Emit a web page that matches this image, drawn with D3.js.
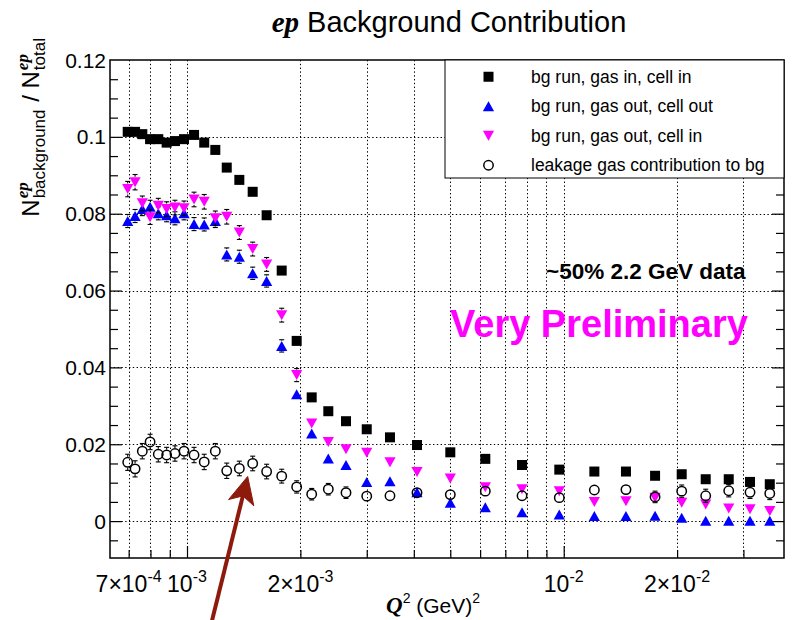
<!DOCTYPE html>
<html>
<head>
<meta charset="utf-8">
<script src="https://cdn.jsdelivr.net/npm/d3@7"></script>
<style>
  body { margin: 0; background: #fff; }
  text { font-family: "Liberation Sans", Arial, Helvetica, sans-serif; }
</style>
</head>
<body>
<svg id="chart" width="799" height="620"></svg>
<script>
// Q^2 bin centres (GeV^2)
var q2 = [6.96e-4, 7.28e-4, 7.61e-4, 7.98e-4, 8.39e-4, 8.83e-4, 9.29e-4, 9.82e-4,
          1.044e-3, 1.111e-3, 1.189e-3, 1.275e-3, 1.377e-3, 1.494e-3, 1.627e-3, 1.784e-3,
          1.955e-3, 2.143e-3, 2.372e-3, 2.643e-3, 3.0e-3, 3.458e-3, 4.079e-3, 5.0e-3,
          6.193e-3, 7.751e-3, 9.734e-3, 1.206e-2, 1.463e-2, 1.748e-2, 2.057e-2, 2.382e-2,
          2.742e-2, 3.123e-2, 3.524e-2];

// bg run, gas in, cell in
var gasInCellIn = [0.1013, 0.1013, 0.1007, 0.0994, 0.0994, 0.0985, 0.0989, 0.0994,
                   0.1005, 0.0985, 0.0966, 0.0920, 0.0888, 0.0857, 0.0796, 0.0652,
                   0.0469, 0.0322, 0.0286, 0.0260, 0.0239, 0.0218, 0.0198, 0.0179,
                   0.0162, 0.0146, 0.0134, 0.0129, 0.0129, 0.0118, 0.0122, 0.0109,
                   0.0109, 0.0102, 0.0096];
var gasInCellInErr = q2.map(function() { return 0.0006; });

// bg run, gas out, cell out
var gasOutCellOut = [0.0781, 0.0794, 0.0812, 0.0818, 0.0801, 0.0796, 0.0788, 0.0801,
                     0.0773, 0.0772, 0.0781, 0.0694, 0.0688, 0.0645, 0.0625, 0.0456,
                     0.0330, 0.0228, 0.0163, 0.0146, 0.0102, 0.0104, 0.0075, 0.0048,
                     0.0036, 0.0023, 0.0017, 0.0013, 0.0013, 0.0014, 0.0009, 0.0001,
                     0.0001, 0.0001, 0.0001];
var gasOutCellOutErr = [0.0017, 0.0017, 0.0017, 0.0017, 0.0017, 0.0017, 0.0017, 0.0017,
                        0.0017, 0.0017, 0.0017, 0.0017, 0.0017, 0.0016, 0.0016, 0.0016,
                        0.0014, 0.0013, 0.0010, 0.0010, 0.0010, 0.0009, 0.0009, 0.0009,
                        0.0009, 0.0009, 0.0009, 0.0009, 0.0009, 0.0009, 0.0009, 0.0009,
                        0.0009, 0.0009, 0.0009];

// bg run, gas out, cell in
var gasOutCellIn = [0.0864, 0.0882, 0.0827, 0.0791, 0.0821, 0.0812, 0.0816, 0.0814,
                    0.0837, 0.0831, 0.0788, 0.0792, 0.0751, 0.0708, 0.0668, 0.0536,
                    0.0380, 0.0254, 0.0206, 0.0187, 0.0178, 0.0153, 0.0128, 0.0111,
                    0.0088, 0.0083, 0.0078, 0.0050, 0.0052, 0.0061, 0.0048, 0.0043,
                    0.0033, 0.0031, 0.0026];
var gasOutCellInErr = [0.0020, 0.0020, 0.0019, 0.0019, 0.0019, 0.0019, 0.0019, 0.0019,
                       0.0019, 0.0019, 0.0019, 0.0019, 0.0018, 0.0018, 0.0018, 0.0018,
                       0.0017, 0.0012, 0.0013, 0.0012, 0.0014, 0.0010, 0.0010, 0.0010,
                       0.0010, 0.0010, 0.0012, 0.0012, 0.0014, 0.0012, 0.0013, 0.0013,
                       0.0013, 0.0012, 0.0012];

// leakage gas contribution to bg
var leakage = [0.0153, 0.0136, 0.0182, 0.0206, 0.0174, 0.0172, 0.0176, 0.0182,
               0.0172, 0.0154, 0.0182, 0.0131, 0.0137, 0.0150, 0.0129, 0.0117,
               0.0089, 0.0070, 0.0083, 0.0074, 0.0065, 0.0066, 0.0074, 0.0069,
               0.0078, 0.0066, 0.0061, 0.0081, 0.0082, 0.0063, 0.0078, 0.0066,
               0.0079, 0.0075, 0.0072];
var leakageErr = [0.0021, 0.0021, 0.0020, 0.0020, 0.0020, 0.0020, 0.0020, 0.0020,
                  0.0020, 0.0020, 0.0020, 0.0020, 0.0019, 0.0019, 0.0019, 0.0018,
                  0.0016, 0.0015, 0.0015, 0.0015, 0.0013, 0.0013, 0.0013, 0.0013,
                  0.0014, 0.0014, 0.0014, 0.0013, 0.0014, 0.0015, 0.0016, 0.0017,
                  0.0016, 0.0016, 0.0016];

var legendLabels = ["bg run, gas in, cell in", "bg run, gas out, cell out",
                    "bg run, gas out, cell in", "leakage gas contribution to bg"];

var yTickLabels = [[0, "0"], [0.02, "0.02"], [0.04, "0.04"], [0.06, "0.06"],
                   [0.08, "0.08"], [0.1, "0.1"], [0.12, "0.12"]];
// [value, mantissa, exponent]
var xTickLabels = [[7e-4, "7\u00d710", "-4"], [1e-3, "10", "-3"], [2e-3, "2\u00d710", "-3"],
                   [1e-2, "10", "-2"], [2e-2, "2\u00d710", "-2"]];

var serif = '"Liberation Serif", "Times New Roman", serif';

var frame = {left: 110, right: 784, top: 60, bottom: 558};

var svg = d3.select("#chart");

var x = d3.scaleLog()
    .domain([6.246e-4, 3.844e-2])
    .range([frame.left, frame.right]);

var y = d3.scaleLinear()
    .domain([-0.0096, 0.12])
    .range([frame.bottom, frame.top]);

// title
var title = svg.append("text")
    .attr("x", 449).attr("y", 32)
    .attr("text-anchor", "middle")
    .style("font-size", "29px");
title.append("tspan")
    .style("font-family", serif).style("font-weight", "bold").style("font-style", "italic")
    .text("ep");
title.append("tspan").text(" Background Contribution");

// grid
var xGrid = x.ticks();
var yGrid = [0, 0.02, 0.04, 0.06, 0.08, 0.1];

var grid = svg.append("g").attr("class", "grid")
    .attr("stroke", "#000").attr("stroke-width", 1).attr("stroke-dasharray", "1.4,2.4");
grid.selectAll("line.v").data(xGrid).enter().append("line")
    .attr("class", "v")
    .attr("x1", function(d) { return Math.round(x(d)) + 0.5; })
    .attr("x2", function(d) { return Math.round(x(d)) + 0.5; })
    .attr("y1", frame.top).attr("y2", frame.bottom);
grid.selectAll("line.h").data(yGrid).enter().append("line")
    .attr("class", "h")
    .attr("y1", function(d) { return Math.round(y(d)) + 0.5; })
    .attr("y2", function(d) { return Math.round(y(d)) + 0.5; })
    .attr("x1", frame.left).attr("x2", frame.right);

// ticks (inward, ROOT style)
var yMajor = [0, 0.02, 0.04, 0.06, 0.08, 0.1];
var yMinor = d3.range(-0.005, 0.1201, 0.005).filter(function(v) {
    return Math.abs(Math.round(v / 0.02) * 0.02 - v) > 1e-6;
});
var xDecades = xGrid.filter(function(v) {
    var l = Math.log10(v); return Math.abs(l - Math.round(l)) < 1e-6;
});
var xOthers = xGrid.filter(function(v) { return xDecades.indexOf(v) < 0; });

function tickAxis(axisFn, scale, vals, size, transform) {
    var g = svg.append("g").attr("transform", transform)
        .call(axisFn(scale).tickValues(vals).tickSize(size).tickSizeOuter(0).tickFormat(""));
    g.select(".domain").remove();
    g.selectAll("line").attr("stroke", "#000").attr("stroke-width", 1.2);
    return g;
}
tickAxis(d3.axisLeft, y, yMajor, -12, "translate(" + frame.left + ",0)");
tickAxis(d3.axisLeft, y, yMinor, -8, "translate(" + frame.left + ",0)");
tickAxis(d3.axisRight, y, yMajor, -12, "translate(" + frame.right + ",0)");
tickAxis(d3.axisRight, y, yMinor, -8, "translate(" + frame.right + ",0)");
tickAxis(d3.axisBottom, x, xDecades, -12, "translate(0," + frame.bottom + ")");
tickAxis(d3.axisBottom, x, xOthers, -8, "translate(0," + frame.bottom + ")");

// frame
svg.append("rect")
    .attr("x", frame.left).attr("y", frame.top)
    .attr("width", frame.right - frame.left).attr("height", frame.bottom - frame.top)
    .attr("fill", "none").attr("stroke", "#000").attr("stroke-width", 1.5);

// y tick labels
svg.append("g").selectAll("text").data(yTickLabels).enter().append("text")
    .attr("x", frame.left - 4)
    .attr("y", function(d) { return y(d[0]) + 7.5; })
    .attr("text-anchor", "end")
    .style("font-size", "21px")
    .text(function(d) { return d[1]; });

// x tick labels
var xl = svg.append("g").selectAll("text").data(xTickLabels).enter().append("text")
    .attr("x", function(d) { return x(d[0]); })
    .attr("y", 592)
    .attr("text-anchor", "middle")
    .style("font-size", "23px");
xl.append("tspan").text(function(d) { return d[1]; });
xl.append("tspan").attr("dy", -10).style("font-size", "16px").text(function(d) { return d[2]; });

// x title
var xt = svg.append("text").attr("x", 386).attr("y", 613).style("font-size", "21px");
xt.append("tspan").style("font-family", serif).style("font-weight", "bold").style("font-style", "italic")
    .style("font-size", "23px").text("Q");
xt.append("tspan").attr("dy", -10).style("font-size", "14px").text("2");
xt.append("tspan").attr("dy", 10).text(" (GeV)");
xt.append("tspan").attr("dy", -10).style("font-size", "14px").text("2");

// y title, built piece by piece then rotated
var yt = svg.append("g");
var cursor = 0;
function piece(txt, size, dy, opts) {
    var t = yt.append("text").attr("x", cursor).attr("y", dy).style("font-size", size + "px")
        .attr("xml:space", "preserve").text(txt);
    if (opts && opts.serif) t.style("font-family", serif).style("font-weight", "bold").style("font-style", "italic");
    return t.node().getComputedTextLength();
}
function stacked(sup, sub) {
    var w1 = piece(sup, 17, -11, {serif: true});
    var w2 = piece(sub, 17, 6);
    cursor += Math.max(w1, w2) + 1;
}
cursor += piece("N", 24, 0) + 1;
stacked("ep", "background");
cursor += piece(" / ", 24, 0);
cursor += piece("N", 24, 0) + 1;
stacked("ep", "total");
var ytLen = cursor;
yt.attr("transform", "translate(39," + (37 + ytLen) + ") rotate(-90)");

// annotations
svg.append("text").attr("x", 546).attr("y", 279)
    .style("font-size", "22.5px").style("font-weight", "bold")
    .text("~50% 2.2 GeV data");
svg.append("text").attr("x", 450).attr("y", 337)
    .style("font-size", "38px").style("font-weight", "bold").attr("fill", "#ff00ff")
    .text("Very Preliminary");

// markers
var markerSize = 5;
function drawMarker(g, kind, cx, cy) {
    var s = markerSize;
    if (kind === "square") {
        g.append("rect").attr("x", cx - s).attr("y", cy - s).attr("width", 2 * s).attr("height", 2 * s)
            .attr("fill", "#000");
    } else if (kind === "up") {
        g.append("path").attr("d", "M" + cx + "," + (cy - s) + "L" + (cx + s + 0.6) + "," + (cy + s) +
            "L" + (cx - s - 0.6) + "," + (cy + s) + "Z").attr("fill", "#0000ff");
    } else if (kind === "down") {
        g.append("path").attr("d", "M" + cx + "," + (cy + s) + "L" + (cx + s + 0.6) + "," + (cy - s) +
            "L" + (cx - s - 0.6) + "," + (cy - s) + "Z").attr("fill", "#ff00ff");
    } else {
        g.append("circle").attr("cx", cx).attr("cy", cy).attr("r", s - 0.3)
            .attr("fill", "none").attr("stroke", "#000").attr("stroke-width", 1.5);
    }
}

var series = [
    {kind: "square", vals: gasInCellIn, errs: gasInCellInErr},
    {kind: "up", vals: gasOutCellOut, errs: gasOutCellOutErr},
    {kind: "down", vals: gasOutCellIn, errs: gasOutCellInErr},
    {kind: "circle", vals: leakage, errs: leakageErr}
];

var plot = svg.append("g");
series.forEach(function(s) {
    var g = plot.append("g");
    s.vals.forEach(function(v, i) {
        var cx = x(q2[i]), cy = y(v);
        var top = y(v + s.errs[i]), bot = y(v - s.errs[i]);
        var gap = markerSize + 0.5;
        var eb = g.append("g").attr("stroke", "#000").attr("stroke-width", 1.1);
        if (cy - top > gap) {
            eb.append("line").attr("x1", cx).attr("x2", cx).attr("y1", cy - gap).attr("y2", top);
            eb.append("line").attr("x1", cx - 2.5).attr("x2", cx + 2.5).attr("y1", top).attr("y2", top);
        }
        if (bot - cy > gap) {
            eb.append("line").attr("x1", cx).attr("x2", cx).attr("y1", cy + gap).attr("y2", bot);
            eb.append("line").attr("x1", cx - 2.5).attr("x2", cx + 2.5).attr("y1", bot).attr("y2", bot);
        }
        drawMarker(g, s.kind, cx, cy);
    });
});

// legend
var leg = svg.append("g");
leg.append("rect").attr("x", 445).attr("y", frame.top).attr("width", frame.right - 445).attr("height", 118)
    .attr("fill", "#fff").attr("stroke", "#000").attr("stroke-width", 1);
legendLabels.forEach(function(lab, i) {
    var cy = frame.top + 29.5 * (i + 0.5) + 2;
    drawMarker(leg, series[i].kind, 488.5, cy);
    leg.append("text").attr("x", 531).attr("y", cy + 6).style("font-size", "17.5px").text(lab);
});

// red arrow pointing at the leakage plateau
var tipX = x(q2[13]) - 5, tipY = y(leakage[13]) + 13;
var tailX = tipX - 36, tailY = 622;
var ang = Math.atan2(tailY - tipY, tailX - tipX);
var ux = Math.cos(ang), uy = Math.sin(ang), px = -uy, py = ux;
var headLen = 27, headW = 13, notch = 20;
var arrow = svg.append("g").attr("fill", "#8e1a0c").attr("stroke", "#8e1a0c");
arrow.append("line")
    .attr("x1", tipX + ux * notch).attr("y1", tipY + uy * notch)
    .attr("x2", tailX).attr("y2", tailY)
    .attr("stroke-width", 4);
arrow.append("path").attr("stroke-width", 1).attr("d",
    "M" + tipX + "," + tipY +
    "L" + (tipX + ux * headLen + px * headW) + "," + (tipY + uy * headLen + py * headW) +
    "L" + (tipX + ux * notch) + "," + (tipY + uy * notch) +
    "L" + (tipX + ux * headLen - px * headW) + "," + (tipY + uy * headLen - py * headW) + "Z");
</script>
</body>
</html>
